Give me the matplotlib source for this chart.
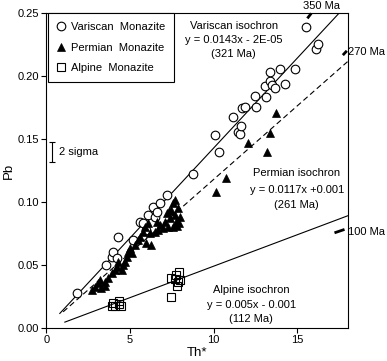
import matplotlib
matplotlib.use("Agg")
import matplotlib.pyplot as plt
import numpy as np

plt.rcParams['font.family'] = ['Liberation Sans', 'DejaVu Sans']

# ---- data ----
variscan_x = [1.84, 3.59, 3.89, 3.99, 4.19, 4.29, 5.18, 5.58, 5.78, 5.94, 6.08, 6.38, 6.48,
              6.58, 6.78, 7.18, 8.77, 10.06, 10.32, 11.15, 11.45, 11.55, 11.65, 11.71, 11.85,
              12.55, 12.45, 13.10, 13.04, 13.38, 13.38, 13.50, 13.64, 13.98, 14.24, 14.84,
              16.09, 16.23, 15.49]
variscan_y = [0.0273, 0.0498, 0.0564, 0.0604, 0.0552, 0.0723, 0.0697, 0.0843, 0.0830, 0.0780,
              0.0896, 0.0962, 0.0882, 0.0922, 0.0989, 0.1055, 0.1222, 0.1532, 0.1394, 0.1672,
              0.1560, 0.1540, 0.1603, 0.1744, 0.1752, 0.1752, 0.1842, 0.1831, 0.1921, 0.1961,
              0.2035, 0.1930, 0.1903, 0.2054, 0.1935, 0.2057, 0.2213, 0.2255, 0.2388]

permian_x = [2.70, 2.90, 3.06, 3.19, 3.29, 3.49, 3.49, 3.69, 3.89, 4.09, 4.19, 4.29, 4.49,
             4.59, 4.69, 4.79, 4.88, 4.99, 5.09, 5.28, 5.48, 5.58, 5.78, 5.88, 5.98, 6.08,
             6.18, 6.28, 6.48, 6.58, 6.68, 6.78, 6.97, 7.07, 7.18, 7.27, 7.37, 7.47, 7.57,
             7.57, 7.67, 7.67, 7.77, 7.87, 7.97, 7.80, 7.95, 7.30,
             10.16, 10.76, 12.05, 13.18, 13.34, 13.74]
permian_y = [0.0300, 0.0326, 0.0353, 0.0379, 0.0313, 0.0366, 0.0330, 0.0393, 0.0432, 0.0459,
             0.0485, 0.0525, 0.0459, 0.0498, 0.0525, 0.0564, 0.0604, 0.0631, 0.0591, 0.0657,
             0.0697, 0.0723, 0.0763, 0.0803, 0.0671, 0.0830, 0.0750, 0.0657, 0.0763, 0.0843,
             0.0777, 0.0816, 0.0790, 0.0843, 0.0909, 0.0803, 0.0870, 0.0936, 0.0989, 0.0800,
             0.1015, 0.0896, 0.0843, 0.0949, 0.0882, 0.0810, 0.0830, 0.0930,
             0.1081, 0.1188, 0.1466, 0.1399, 0.1545, 0.1704]

alpine_x = [3.89, 3.99, 4.10, 4.35, 4.43, 4.35, 7.47, 7.43, 7.77, 7.93, 7.83, 7.87, 7.70, 7.97]
alpine_y = [0.0172, 0.0194, 0.0172, 0.0188, 0.0172, 0.0210, 0.0247, 0.0392, 0.0419, 0.0440,
            0.0331, 0.0366, 0.0390, 0.0379]

# isochrons: slope, intercept, x range
iso_slopes = [0.0143, 0.0117, 0.005]
iso_intercepts = [-2e-05, 0.001, -0.001]
iso_xranges = [(0.8, 17.48), (1.0, 18.0), (1.1, 18.0)]
iso_styles = ['-', '--', '-']

legend_labels = ['Variscan  Monazite', 'Permian  Monazite', 'Alpine  Monazite']

# age reference ticks: label, segment (x0,y0,x1,y1)
age_labels = ['350 Ma', '270 Ma', '100 Ma']
age_segments = [(15.60, 0.2460, 15.83, 0.2500),
                (17.72, 0.2168, 17.96, 0.2202),
                (17.22, 0.0755, 17.82, 0.0782)]

# ---- figure ----
fig = plt.figure(figsize=(3.87, 3.61), dpi=100)
ax = fig.add_axes([0.120, 0.092, 0.778, 0.871])

for s, b, (x0, x1), ls in zip(iso_slopes, iso_intercepts, iso_xranges, iso_styles):
    xx = np.array([x0, x1])
    ax.plot(xx, s * xx + b, color='black', lw=0.8, ls=ls,
            dashes=(5, 3) if ls == '--' else (None, None), zorder=2)

ax.plot(variscan_x, variscan_y, ls='none', marker='o', ms=6.2, mfc='white', mec='black',
        mew=0.8, label=legend_labels[0], zorder=3)
ax.plot(permian_x, permian_y, ls='none', marker='^', ms=5.8, mfc='black', mec='black',
        mew=0.5, label=legend_labels[1], zorder=4)
ax.plot(alpine_x, alpine_y, ls='none', marker='s', ms=5.8, mfc='none', mec='black',
        mew=0.8, label=legend_labels[2], zorder=3)

for (x0, y0, x1, y1) in age_segments:
    ax.plot([x0, x1], [y0, y1], color='black', lw=2.0, clip_on=False, solid_capstyle='butt')

ax.text(16.43, 0.2557, age_labels[0], ha='center', va='center', fontsize=8, clip_on=False)
ax.text(18.05, 0.2192, age_labels[1], ha='left', va='center', fontsize=8, clip_on=False)
ax.text(18.05, 0.0763, age_labels[2], ha='left', va='center', fontsize=8, clip_on=False)

# isochron annotations
ax.text(11.19, 0.2400, 'Variscan isochron', ha='center', va='center', fontsize=8)
ax.text(11.19, 0.2287, 'y = 0.0143x - 2E-05', ha='center', va='center', fontsize=8)
ax.text(11.19, 0.2176, '(321 Ma)', ha='center', va='center', fontsize=8)

ax.text(14.96, 0.1230, 'Permian isochron', ha='center', va='center', fontsize=8)
ax.text(14.96, 0.1095, 'y = 0.0117x +0.001', ha='center', va='center', fontsize=8)
ax.text(14.96, 0.0975, '(261 Ma)', ha='center', va='center', fontsize=8)

ax.text(12.25, 0.0300, 'Alpine isochron', ha='center', va='center', fontsize=8)
ax.text(12.25, 0.0180, 'y = 0.005x - 0.001', ha='center', va='center', fontsize=8)
ax.text(12.25, 0.0069, '(112 Ma)', ha='center', va='center', fontsize=8)

# 2 sigma error bar
ax.errorbar([0.31], [0.1397], yerr=0.0082, fmt='none', ecolor='black', elinewidth=0.8,
            capsize=2.5, capthick=0.8)
ax.text(0.76, 0.1397, '2 sigma', ha='left', va='center', fontsize=8)

ax.set_xlim(0, 18)
ax.set_ylim(0, 0.25)
ax.set_xticks([0, 5, 10, 15])
ax.set_yticks([0, 0.05, 0.10, 0.15, 0.20, 0.25])
ax.set_yticklabels(['0.00', '0.05', '0.10', '0.15', '0.20', '0.25'])
ax.tick_params(direction='out', length=3.5, width=0.8, labelsize=8, pad=2)
for sp in ax.spines.values():
    sp.set_linewidth(0.8)

ax.set_xlabel('Th*', fontsize=9.5, labelpad=1)
ax.set_ylabel('Pb', fontsize=9.5, labelpad=2)

leg = ax.legend(loc='upper left', bbox_to_anchor=(0.005, 1.0), fontsize=8, frameon=True,
                fancybox=False, edgecolor='black', framealpha=1, borderaxespad=0,
                handlelength=0.8, handletextpad=0.5, labelspacing=0.95, borderpad=0.8,
                numpoints=1)
leg.get_frame().set_linewidth(0.8)

fig.savefig('out.png', dpi=100)
